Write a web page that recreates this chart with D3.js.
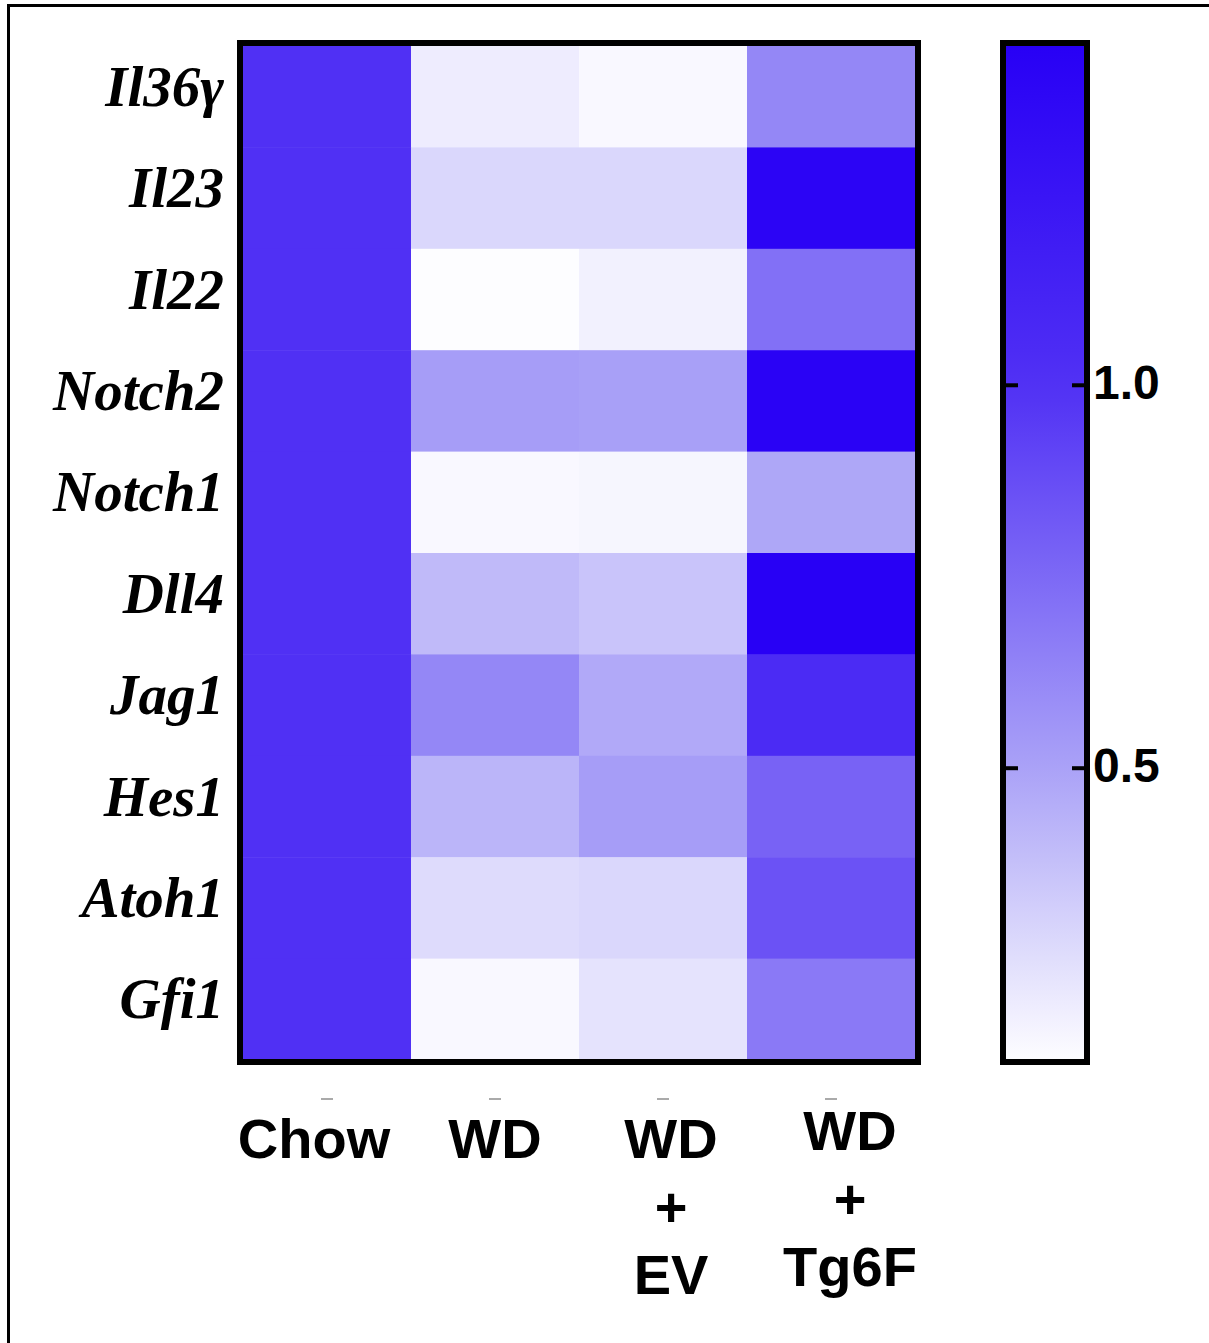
<!DOCTYPE html>
<html><head><meta charset="utf-8">
<script src="https://cdn.jsdelivr.net/npm/d3@7"></script>
<style>body{margin:0;background:#fff}svg{display:block}</style>
</head><body>
<script>
const genes = ["Il36γ","Il23","Il22","Notch2","Notch1","Dll4","Jag1","Hes1","Atoh1","Gfi1"];
const groups = ["Chow","WD","WD+EV","WD+Tg6F"];
const groupLines = [["Chow"],["WD"],["WD","+","EV"],["WD","+","Tg6F"]];
const chow  = [1.0,1.0,1.0,1.0,1.0,1.0,1.0,1.0,1.0,1.0];
const wd    = [0.19,0.28,0.12,0.52,0.14,0.40,0.62,0.42,0.26,0.14];
const wdEV  = [0.14,0.28,0.17,0.51,0.15,0.36,0.47,0.52,0.28,0.23];
const wdTg6F= [0.62,1.40,0.72,1.42,0.48,1.44,1.05,0.78,0.85,0.68];
const colorTicks = [0.5,1.0];
const values = [chow, wd, wdEV, wdTg6F];

const W=1209,H=1343;
const svg=d3.select("body").append("svg").attr("width",W).attr("height",H);

// frame (top & left)
svg.append("path").attr("d","M8.5,1343V5.5H1209").attr("fill","none").attr("stroke","#000").attr("stroke-width",3);

const x=d3.scaleBand().domain(groups).range([243,915]);
const y=d3.scaleBand().domain(genes).range([46,1060]);
const color=d3.scaleLinear().domain([0.12,0.5,1.0,1.44]).range(["#fdfdff","#aaa2f7","#5030f4","#2800f5"]);

const cells=[];
groups.forEach((g,i)=>genes.forEach((n,j)=>cells.push({g,n,v:values[i][j]})));
svg.append("g").selectAll("rect").data(cells).join("rect")
  .attr("x",d=>x(d.g)).attr("y",d=>y(d.n))
  .attr("width",x.bandwidth()+0.5).attr("height",y.bandwidth()+0.5)
  .attr("fill",d=>color(d.v));
svg.append("rect").attr("x",240).attr("y",43).attr("width",678).attr("height",1019)
  .attr("fill","none").attr("stroke","#000").attr("stroke-width",6);

// row labels
svg.append("g").selectAll("text").data(genes).join("text")
  .attr("x",224).attr("y",d=>y(d)+y.bandwidth()/2+9)
  .attr("text-anchor","end")
  .style("font-family","'Liberation Serif','Times New Roman',serif")
  .style("font-weight","bold").style("font-style","italic").style("font-size","57px")
  .text(d=>d);

// faint x ticks
svg.append("g").selectAll("line").data(groups).join("line")
  .attr("x1",d=>x(d)+x.bandwidth()/2-6).attr("x2",d=>x(d)+x.bandwidth()/2+6)
  .attr("y1",1099).attr("y2",1099).attr("stroke","#aaa").attr("stroke-width",2);

// column labels
const dx=[-13,0,8,19], y0=[1158,1158,1158,1150];
const lab=svg.append("g")
  .style("font-family","'Liberation Sans',Arial,sans-serif")
  .style("font-weight","bold").style("font-size","56px").attr("text-anchor","middle");
groups.forEach((g,i)=>{
  groupLines[i].forEach((t,k)=>{
    lab.append("text").attr("x",x(g)+x.bandwidth()/2+dx[i]).attr("y",y0[i]+k*68).text(t);
  });
});

// colour bar
const cb=d3.scaleLinear().domain([0.119,1.443]).range([1060,46]);
const defs=svg.append("defs");
const grad=defs.append("linearGradient").attr("id","cbg").attr("x1",0).attr("y1",1).attr("x2",0).attr("y2",0);
d3.range(0,1.0001,0.05).forEach(t=>{
  const v=0.119+t*(1.443-0.119);
  grad.append("stop").attr("offset",t).attr("stop-color",color(v));
});
svg.append("rect").attr("x",1003).attr("y",46).attr("width",84).attr("height",1014).attr("fill","url(#cbg)");
svg.append("rect").attr("x",1003).attr("y",43).attr("width",84).attr("height",1019)
  .attr("fill","none").attr("stroke","#000").attr("stroke-width",6);
const tk=svg.append("g");
colorTicks.forEach(v=>{
  tk.append("line").attr("x1",1006).attr("x2",1018).attr("y1",cb(v)).attr("y2",cb(v)).attr("stroke","#000").attr("stroke-width",4);
  tk.append("line").attr("x1",1072).attr("x2",1090).attr("y1",cb(v)).attr("y2",cb(v)).attr("stroke","#000").attr("stroke-width",4);
  tk.append("text").attr("x",1093).attr("y",cb(v)+14)
    .style("font-family","'Liberation Sans',Arial,sans-serif").style("font-weight","bold").style("font-size","48px")
    .text(d3.format(".1f")(v));
});
</script>
</body></html>
